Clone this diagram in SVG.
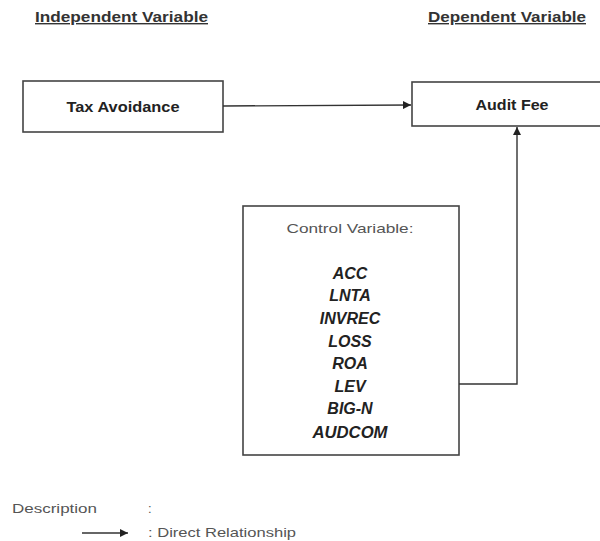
<svg xmlns="http://www.w3.org/2000/svg" width="600" height="541" viewBox="0 0 600 541">
<style>
.box{fill:#fff;stroke:#444;stroke-width:1.6}
.hdr{font-family:"Liberation Sans",Arial,sans-serif;font-weight:bold;font-size:14px;fill:#333;text-decoration:underline}
.lbl{font-family:"Liberation Sans",Arial,sans-serif;font-weight:bold;font-size:14px;fill:#222;text-anchor:middle}
.ctl{font-family:"Liberation Sans",Arial,sans-serif;font-size:13px;fill:#555;text-anchor:middle}
.itm{font-family:"Liberation Sans",Arial,sans-serif;font-weight:bold;font-style:italic;font-size:16px;fill:#222;text-anchor:middle}
.desc{font-family:"Liberation Sans",Arial,sans-serif;font-size:13px;fill:#555}
.con{fill:none;stroke:#333;stroke-width:1.4}
</style>
<defs>
<marker id="ah" viewBox="0 0 10 10" refX="10" refY="5" markerWidth="8" markerHeight="8" markerUnits="userSpaceOnUse" orient="auto">
<path d="M0,0 L10,5 L0,10 z" fill="#222"/>
</marker>
</defs>
<text class="hdr" x="35" y="22" textLength="173" lengthAdjust="spacingAndGlyphs">Independent Variable</text>
<text class="hdr" x="428" y="22" textLength="158" lengthAdjust="spacingAndGlyphs">Dependent Variable</text>
<g id="tax">
<rect class="box" x="23" y="81" width="200" height="51"/>
<text class="lbl" x="123" y="112" textLength="113" lengthAdjust="spacingAndGlyphs">Tax Avoidance</text>
</g>
<g id="audit">
<rect class="box" x="412" y="82" width="200" height="44"/>
<text class="lbl" x="512" y="110" textLength="73" lengthAdjust="spacingAndGlyphs">Audit Fee</text>
</g>
<g id="control">
<rect class="box" x="243" y="206" width="216" height="249"/>
<text class="ctl" x="350" y="233" textLength="127" lengthAdjust="spacingAndGlyphs">Control Variable:</text>
<text class="itm" x="350" y="279">ACC</text>
<text class="itm" x="350" y="301">LNTA</text>
<text class="itm" x="350" y="324">INVREC</text>
<text class="itm" x="350" y="347">LOSS</text>
<text class="itm" x="350" y="369">ROA</text>
<text class="itm" x="350" y="392">LEV</text>
<text class="itm" x="350" y="414">BIG-N</text>
<text class="itm" x="350" y="438" textLength="75" lengthAdjust="spacingAndGlyphs">AUDCOM</text>
</g>
<g id="connectors">
<path class="con" d="M223,106 L411,105" marker-end="url(#ah)"/>
<path class="con" d="M459,384 L517,384 L517,127" marker-end="url(#ah)"/>
</g>
<g id="legend">
<text class="desc" x="12" y="513" textLength="85" lengthAdjust="spacingAndGlyphs">Description</text>
<text class="desc" x="148" y="513">:</text>
<path class="con" d="M82,533 L128,533" marker-end="url(#ah)"/>
<text class="desc" x="148" y="537" textLength="148" lengthAdjust="spacingAndGlyphs">: Direct Relationship</text>
</g>
</svg>
